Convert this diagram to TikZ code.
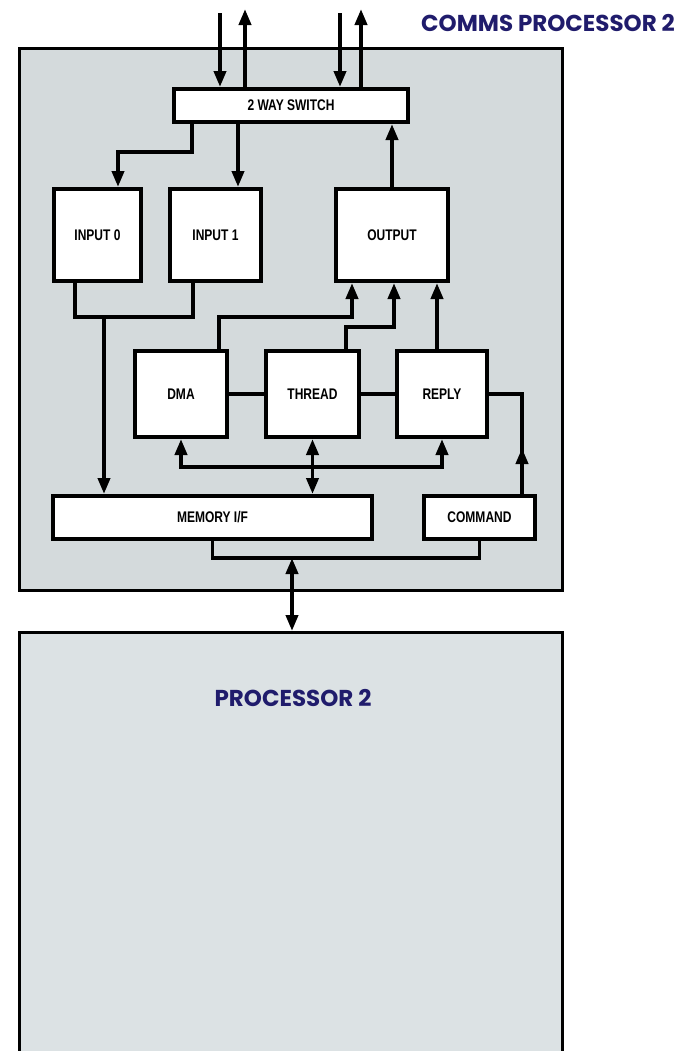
\documentclass[tikz,border=0pt]{standalone}
\usepackage{fontspec}
\usepackage{tikz}
\usetikzlibrary{positioning, arrows.meta, calc}
\newfontfamily\condsans[FakeStretch=0.78]{Liberation Sans}
\newfontfamily\geosans{Poppins}
\definecolor{panelgray}{RGB}{212,218,220}
\definecolor{panellight}{RGB}{220,226,228}
\definecolor{commsblue}{RGB}{32,28,108}
\tikzset{
  panel/.style={draw, line width=1.3pt, fill=panelgray, inner sep=0pt},
  block/.style={draw, line width=2.2pt, fill=white, inner sep=0pt, align=center, font=\condsans\bfseries\fontsize{7.7}{9}\selectfont},
  title/.style={inner sep=0pt, text=commsblue, font=\geosans\bfseries\fontsize{11.5}{13}\selectfont},
  link/.style={line width=1.9pt},
  arr/.style={link, -{Triangle[length=8pt, width=6pt]}},
  darr/.style={link, {Triangle[length=8pt, width=6pt]}-{Triangle[length=8pt, width=6pt]}}
}

\begin{document}
\begin{tikzpicture}[x=0.5pt, y=-0.5pt]
\useasboundingbox (0,0) rectangle (678,1051);
\clip (0,0) rectangle (678,1051);
\node[panel, minimum width=271.7pt, minimum height=271.2pt] (comms) at (291,319.5) {};
\node[panel, fill=panellight, minimum width=271.7pt, minimum height=213.2pt] (proc) at (291,845.5) {};
\node[title] (commslbl) at (548,23) {COMMS PROCESSOR 2};
\node[title] (proclbl) at (293,698) {PROCESSOR 2};

\node[block, minimum width=116.8pt, minimum height=16.3pt] (sw) at (291,105.5) {2 WAY SWITCH};
\node[block, minimum width=43.3pt, minimum height=45.8pt] (in0) at (97.5,235) {INPUT 0};
\node[block, minimum width=45.3pt, minimum height=45.8pt, right=12.5pt of in0] (in1) {INPUT 1};
\node[block, minimum width=55.8pt, minimum height=45.8pt] (out) at (392,235) {OUTPUT};
\node[block, minimum width=45.8pt, minimum height=42.8pt] (dma) at (181,394) {DMA};
\node[block, minimum width=46.3pt, minimum height=42.8pt, right=17.5pt of dma] (thr) {THREAD};
\node[block, minimum width=44.8pt, minimum height=42.8pt, right=17pt of thr] (rep) {REPLY};
\node[block, minimum width=159.3pt, minimum height=21.3pt] (mem) at (212.5,517.5) {MEMORY I/F};
\node[block, minimum width=55.3pt, minimum height=21.3pt, right=24pt of mem] (cmd) {COMMAND};

\coordinate (ina) at (220,13);
\coordinate (outa) at (245,9);
\coordinate (inb) at (340,13);
\coordinate (outb) at (361,9);
\draw[arr] (ina) -- (ina |- sw.north);
\draw[arr] (outa |- sw.north) -- (outa);
\draw[arr] (inb) -- (inb |- sw.north);
\draw[arr] (outb |- sw.north) -- (outb);

\coordinate (in1top) at ($(in1.north)+(22.5,0)$);
\draw[arr] ($(sw.south west)+(20,0)$) -- ++(0,28) -| ($(in0.north)+(20.5,0)$);
\draw[arr] (in1top |- sw.south) -- (in1top);
\draw[arr] (out.north) -- (out.north |- sw.south);

\coordinate (join) at (104,317);
\draw[link] ($(in0.south)+(-22.5,0)$) |- (join) -| ($(in1.south)+(-22.5,0)$);
\draw[arr] (join) -- (join |- mem.north);

\draw[arr] ($(dma.north)+(38,0)$) -- ++(0,-32) -| ($(out.south)+(-40,0)$);
\draw[arr] ($(thr.north)+(33.5,0)$) -- ++(0,-22) -| ($(out.south)+(2,0)$);
\draw[arr] ($(rep.north)+(-5,0)$) -- ($(out.south)+(45,0)$);

\draw[link] (dma) -- (thr);
\draw[link] (thr) -- (rep);
\draw[link] ($(cmd.north)+(42.5,0)$) |- (rep.east);
\draw[arr] ($(cmd.north)+(42.5,0)$) -- ++(0,-46);

\coordinate (bus) at (312.5,467);
\draw[arr] (bus) -| (dma.south);
\draw[arr] (bus) -| (rep.south);
\draw[darr] (thr.south) -- (thr.south |- mem.north);

\coordinate (mbus) at (292,558);
\draw[link] (mem.south) |- (mbus) -| (cmd.south);
\draw[darr] (mbus) -- (mbus |- proc.north);
\end{tikzpicture}
\end{document}
